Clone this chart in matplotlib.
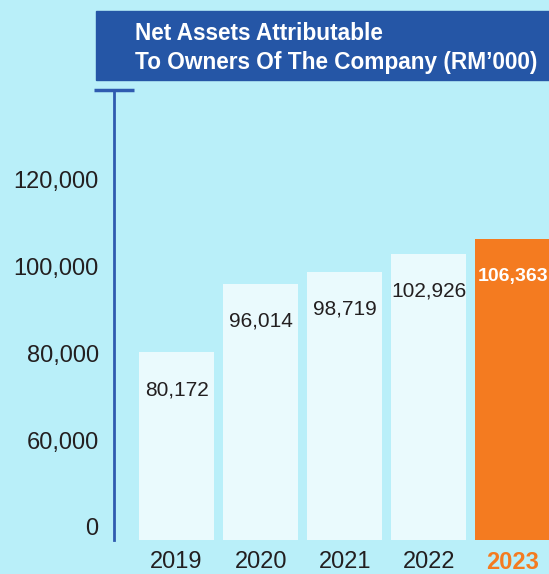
import matplotlib
matplotlib.use('Agg')
import matplotlib.pyplot as plt
from matplotlib.patches import Rectangle

plt.rcParams['font.family'] = ['Liberation Sans', 'DejaVu Sans']

# values in RM'000
years = ['2019', '2020', '2021', '2022', '2023']
net_assets = [80172, 96014, 98719, 102926, 106363]
value_labels = ['80,172', '96,014', '98,719', '102,926', '106,363']

# axis is broken: the "0" tick sits where 40,000 would be
tick_values = [40000, 60000, 80000, 100000, 120000]
tick_labels = ['0', '60,000', '80,000', '100,000', '120,000']

BG = '#B9EFF9'
BAR = '#EAFAFD'
ORANGE = '#F47B20'
NAVY = '#2556A6'
AXIS = '#2F5BB0'
TEXT = '#231F20'

fig = plt.figure(figsize=(5.49, 5.74), dpi=100, facecolor=BG)
W, H = 549, 574
ax = fig.add_axes([114 / W, 1 - 540 / H, (W - 114) / W, 450 / H])
ax.set_facecolor(BG)

colors = [BAR] * (len(years) - 1) + [ORANGE]
xs = range(len(years))
ax.bar(xs, net_assets, width=0.89, color=colors, bottom=0, zorder=2)

for x, v, lab in zip(xs, net_assets, value_labels):
    last = (x == len(years) - 1)
    ax.annotate(lab, (x, v), xytext=(0, -27), textcoords='offset points',
                ha='center', va='center', fontsize=14 if last else 15,
                color='white' if last else TEXT,
                fontweight='bold' if last else 'normal', zorder=3)

ax.set_ylim(37000, 140600)
ax.set_xlim(-0.744, 4.43)
ax.set_yticks(tick_values)
ax.set_yticklabels(tick_labels, fontsize=17, color=TEXT)
ax.set_xticks(list(xs))
ax.set_xticklabels(years, fontsize=17, color=TEXT)
xl = ax.get_xticklabels()[-1]
xl.set_color(ORANGE)
xl.set_fontweight('bold')
ax.tick_params(axis='y', length=0, pad=11)
ax.tick_params(axis='x', length=0, pad=8)

for s in ['top', 'right', 'bottom']:
    ax.spines[s].set_visible(False)
ax.spines['left'].set_color(AXIS)
ax.spines['left'].set_linewidth(2)
ax.plot([-0.046, 0.046], [1, 1], transform=ax.transAxes, color=AXIS,
        lw=2.5, clip_on=False, solid_capstyle='butt')

# title box
fig.patches.append(Rectangle((96 / W, 1 - 80 / H), 1 - 96 / W, 69 / H,
                             transform=fig.transFigure, color=NAVY, zorder=0))
fig.text(135 / W, 1 - 33 / H, 'Net Assets Attributable', color='white',
         fontsize=16.3, fontweight='bold', va='center', ha='left')
fig.text(135 / W, 1 - 62 / H, 'To Owners Of The Company (RM\u2019000)', color='white',
         fontsize=16.3, fontweight='bold', va='center', ha='left')

fig.savefig('out.png', dpi=100, facecolor=BG)
